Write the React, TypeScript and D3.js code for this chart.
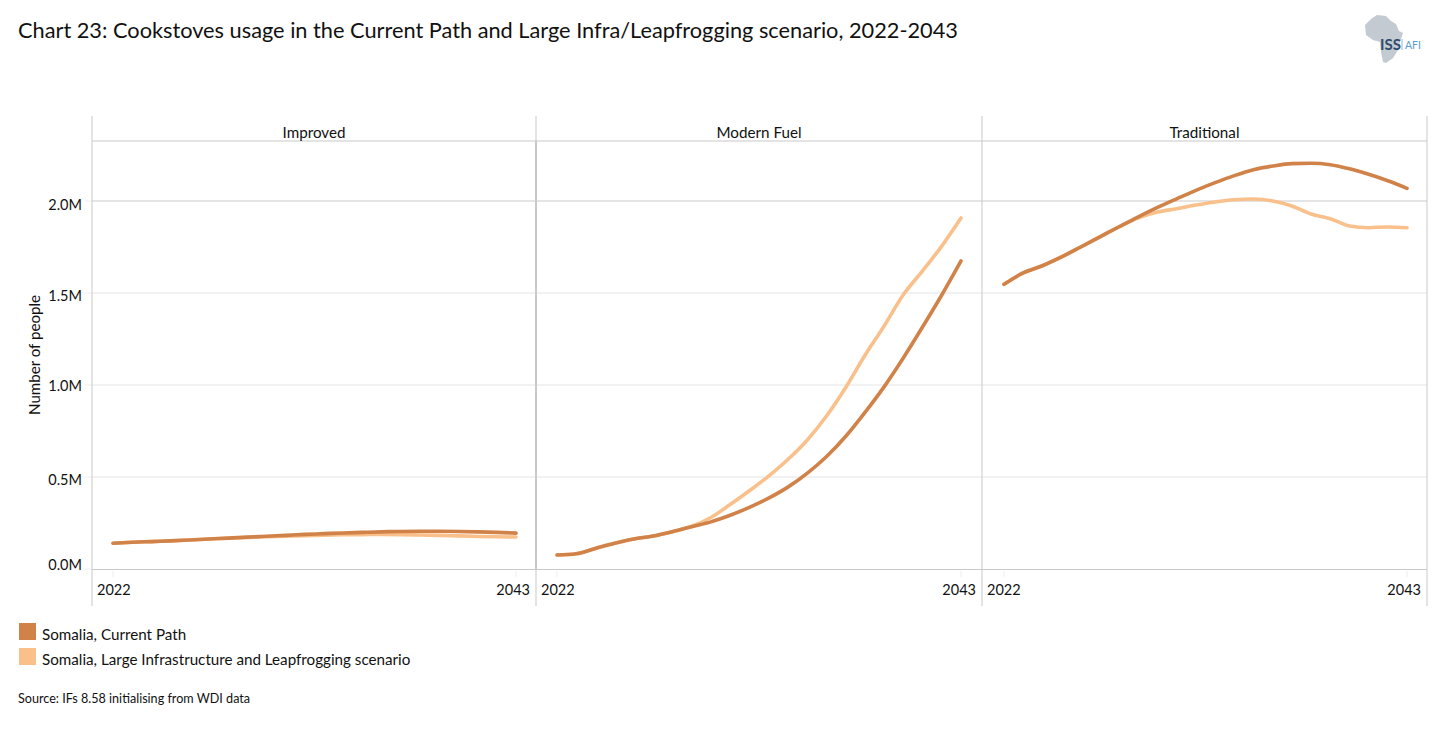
import { useEffect, useRef } from "react"
import * as d3 from "d3"

const FONT = "Lato, 'Open Sans', sans-serif"
const W = 1443
const H = 729
const DARK = "#d08248"
const LIGHT = "#f9c08c"

const years = d3.range(2022, 2044)
const yTicks = [0, 0.5, 1, 1.5, 2]
const yTickNudge = [-4, 3, 1, 3, 4]
const panels = ["Improved", "Modern Fuel", "Traditional"]
const panelEdges = [92, 536, 982, 1427]
const panelStart = [113, 557, 1004]
const panelEnd = [516, 961, 1407]

// values in millions of people
const improvedCP = [0.14, 0.145, 0.149, 0.153, 0.158, 0.163, 0.168, 0.173, 0.178, 0.183, 0.188, 0.192, 0.196, 0.199, 0.202, 0.204, 0.205, 0.205, 0.204, 0.202, 0.199, 0.195]
const improvedLI = [0.14, 0.145, 0.149, 0.153, 0.158, 0.163, 0.167, 0.171, 0.175, 0.178, 0.181, 0.184, 0.186, 0.187, 0.188, 0.187, 0.185, 0.183, 0.18, 0.177, 0.175, 0.174]
const modernCP = [0.076, 0.083, 0.112, 0.14, 0.163, 0.179, 0.203, 0.23, 0.256, 0.292, 0.335, 0.385, 0.445, 0.52, 0.61, 0.72, 0.85, 0.99, 1.147, 1.315, 1.489, 1.674]
const modernLI = [0.076, 0.083, 0.112, 0.14, 0.163, 0.179, 0.203, 0.232, 0.28, 0.35, 0.425, 0.505, 0.595, 0.7, 0.83, 0.985, 1.16, 1.32, 1.49, 1.62, 1.755, 1.908]
const tradCP = [1.547, 1.609, 1.648, 1.696, 1.75, 1.805, 1.86, 1.914, 1.965, 2.012, 2.058, 2.1, 2.138, 2.17, 2.19, 2.203, 2.205, 2.197, 2.175, 2.145, 2.11, 2.069]
const tradLI = [1.547, 1.609, 1.648, 1.696, 1.75, 1.805, 1.86, 1.908, 1.94, 1.958, 1.978, 1.995, 2.007, 2.011, 2.0, 1.973, 1.929, 1.904, 1.864, 1.855, 1.859, 1.855]

const seriesLI = [improvedLI, modernLI, tradLI]
const seriesCP = [improvedCP, modernCP, tradCP]
const legendItems = ["Somalia, Current Path", "Somalia, Large Infrastructure and Leapfrogging scenario"]
const legendColours = [DARK, LIGHT]

export default function App() {
  const ref = useRef<SVGSVGElement>(null)
  useEffect(() => {
    if (!ref.current) return
    const svg = d3.select(ref.current)
    svg.selectAll("*").remove()
    const y = d3.scaleLinear().domain([0, 2]).range([569, 201])

    const text = (x: number, yy: number, s: string, size = 14, anchor = "start") =>
      svg.append("text").attr("x", x).attr("y", yy).attr("text-anchor", anchor)
        .style("font-family", FONT).style("font-size", `${size}px`).style("fill", "#111").text(s)

    text(18, 38, "Chart 23: Cookstoves usage in the Current Path and Large Infra/Leapfrogging scenario, 2022-2043", 21.75)

    // grid
    yTicks.forEach(t => {
      if (t === 0) return
      svg.append("line").attr("x1", 92).attr("x2", 1427).attr("y1", y(t)).attr("y2", y(t))
        .attr("stroke", "#e4e4e4").attr("stroke-width", t === 2 ? 2 : 1)
    })
    yTicks.forEach((t, i) => {
      svg.append("line").attr("x1", 85).attr("x2", 92).attr("y1", y(t)).attr("y2", y(t)).attr("stroke", "#eeeeee")
      text(82, y(t) + 5 + yTickNudge[i], `${t.toFixed(1)}M`, 14.5, "end")
    })

    // frame
    svg.append("line").attr("x1", 92).attr("x2", 1427).attr("y1", 141).attr("y2", 141).attr("stroke", "#c9c9c9")
    svg.append("line").attr("x1", 92).attr("x2", 1427).attr("y1", 569.5).attr("y2", 569.5).attr("stroke", "#c9c9c9")
    panelEdges.forEach(x => {
      svg.append("line").attr("x1", x).attr("x2", x).attr("y1", 116).attr("y2", 606).attr("stroke", "#c9c9c9")
    })
    svg.append("line").attr("x1", 536).attr("x2", 536).attr("y1", 141).attr("y2", 569).attr("stroke", "#c9c9c9").attr("stroke-width", 2)

    panels.forEach((name, p) => {
      const x = d3.scaleLinear().domain([2022, 2043]).range([panelStart[p], panelEnd[p]])
      const line = d3.line<number>().x((_, i) => x(years[i])).y(d => y(d)).curve(d3.curveMonotoneX)
      text((panelEdges[p] + panelEdges[p + 1]) / 2, 138, name, 15.2, "middle")
      svg.append("path").attr("d", line(seriesLI[p])).attr("fill", "none").attr("stroke", LIGHT)
        .attr("stroke-width", 3.6).attr("stroke-linecap", "round")
      svg.append("path").attr("d", line(seriesCP[p])).attr("fill", "none").attr("stroke", DARK)
        .attr("stroke-width", 3.6).attr("stroke-linecap", "round")
      ;[2022, 2043].forEach(yr => {
        svg.append("line").attr("x1", x(yr)).attr("x2", x(yr)).attr("y1", 571).attr("y2", 577).attr("stroke", "#eeeeee")
      })
      text(panelEdges[p] + 5, 595, "2022", 14.5)
      text(panelEdges[p + 1] - 6, 595, "2043", 14.5, "end")
    })

    text(0, 0, "Number of people", 15.1, "middle").attr("transform", "translate(40,355) rotate(-90)")

    legendItems.forEach((s, i) => {
      svg.append("rect").attr("x", 19).attr("y", 623 + i * 25).attr("width", 17).attr("height", 17).attr("fill", legendColours[i])
      text(42, 640 + i * 25, s, 15.2)
    })
    text(18, 703, "Source: IFs 8.58 initialising from WDI data", 12.6)

    // logo
    const logo = svg.append("g")
    logo.append("path").attr("fill", "#c3cad2")
      .attr("d", "M1365 25 L1371 19 L1377 15 L1386 16 L1391 21 L1396 24 L1399 31 L1403 33 L1400 42 L1398 50 L1393 58 L1386 63 L1383 62 L1381 52 L1380 42 L1373 40 L1366 35 Z")
    logo.append("text").attr("x", 1380).attr("y", 50).style("font-family", FONT).style("font-size", "15px").style("font-weight", "700").style("fill", "#2f4a6d").text("ISS")
    logo.append("line").attr("x1", 1402).attr("x2", 1402).attr("y1", 39).attr("y2", 50).attr("stroke", "#8fb8d8")
    logo.append("text").attr("x", 1405).attr("y", 49).style("font-family", FONT).style("font-size", "10.5px").style("fill", "#5b9bd0").text("AFI")
  }, [])
  return <svg ref={ref} width={W} height={H} style={{ position: "absolute", left: 0, top: 0, display: "block", background: "#fff" }} />
}
